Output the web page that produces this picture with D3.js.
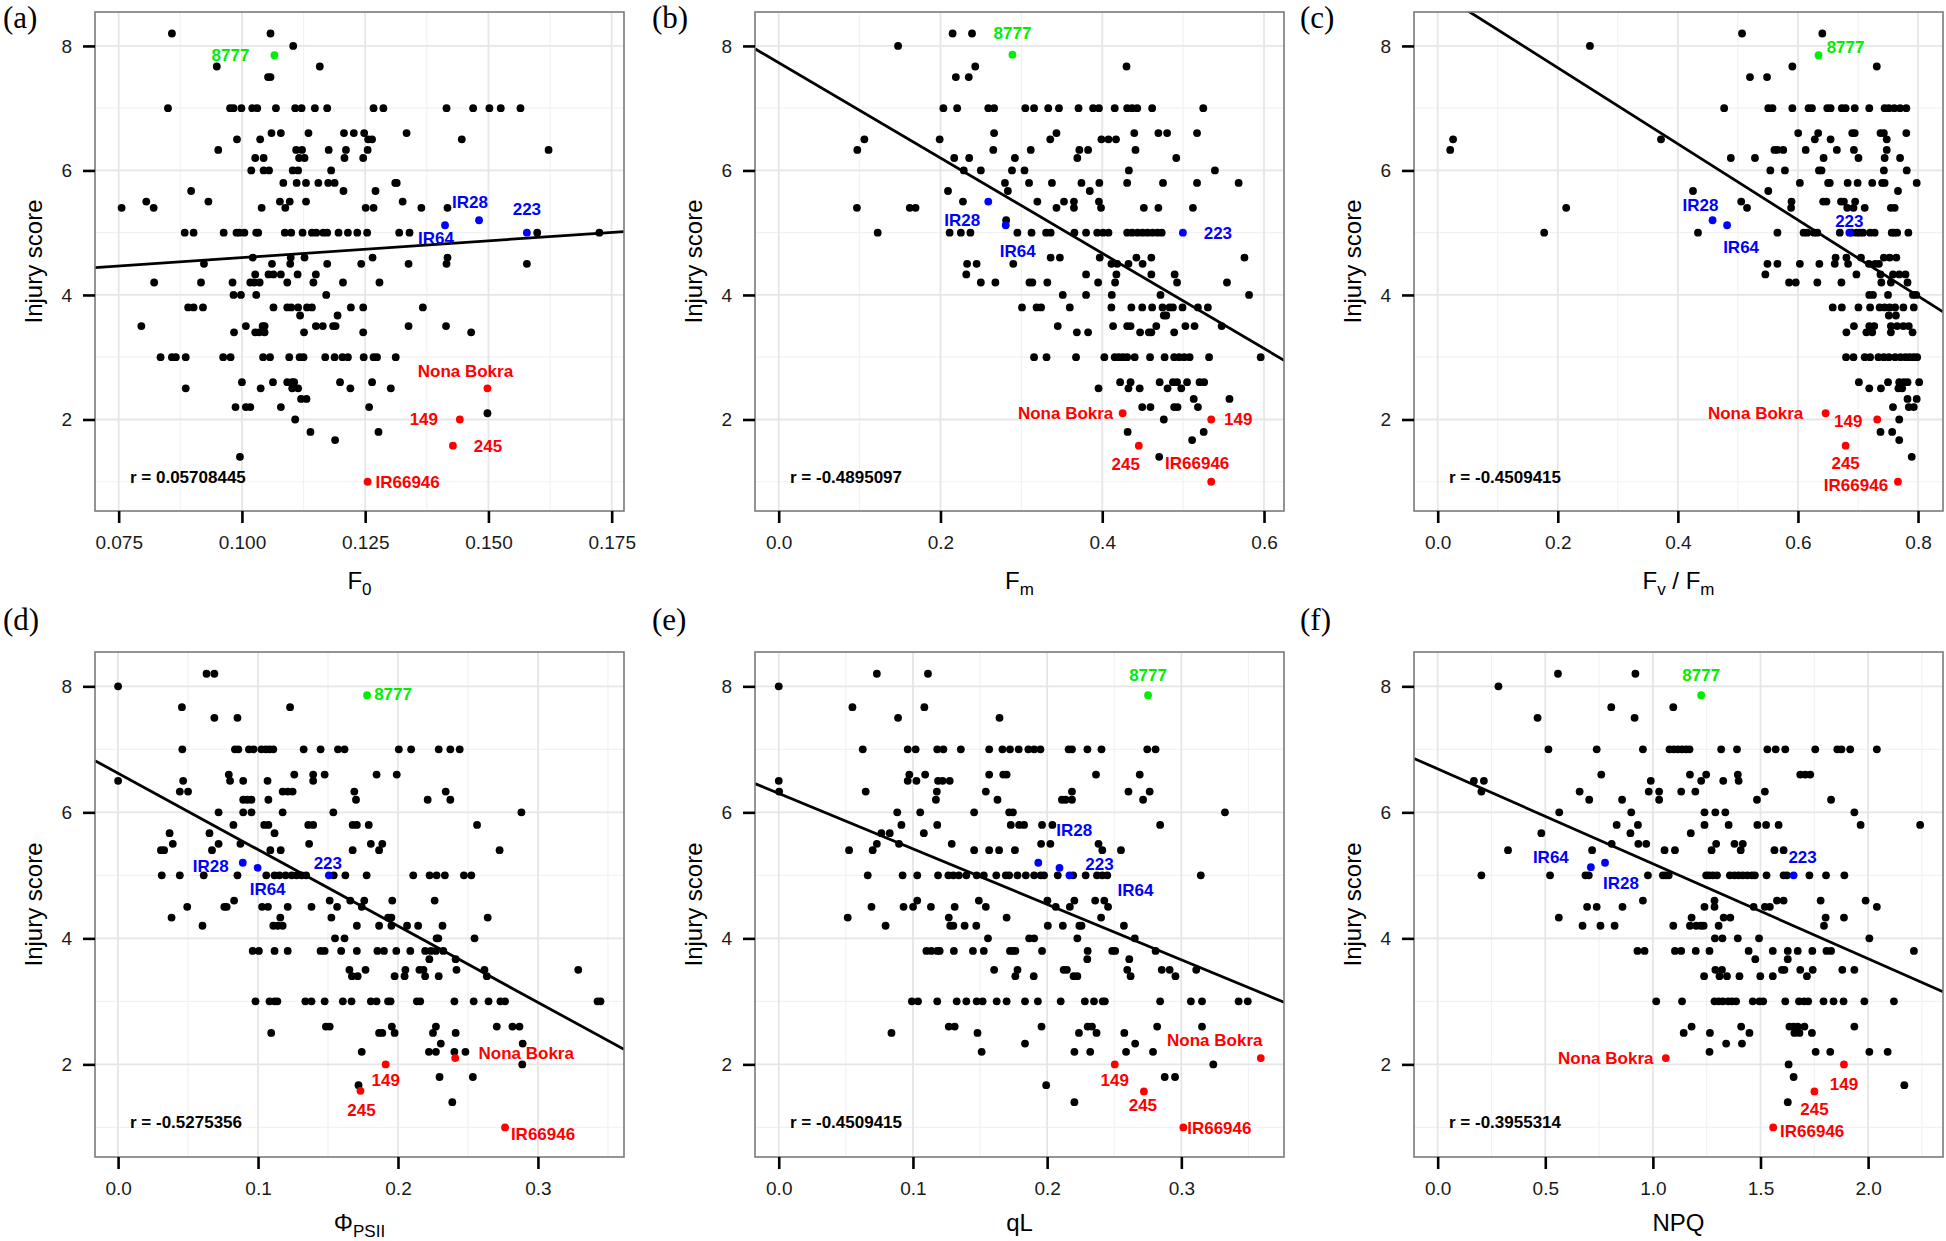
<!DOCTYPE html>
<html>
<head>
<meta charset="utf-8">
<script src="https://cdn.jsdelivr.net/npm/d3@7"></script>
<style>
  body { margin: 0; background: #fff; }
  svg { display: block; }
</style>
</head>
<body>
<svg id="chart" width="1946" height="1241"></svg>
<script>
// genotypes that get a label, in the order used by every special* array
const genotypes = ["8777", "IR28", "IR64", "223", "Nona Bokra", "149", "245", "IR66946"];
const genotypeColors = ["#00ee00", "#0000ff", "#0000ff", "#0000ff", "#ff0000", "#ff0000", "#ff0000", "#ff0000"];

const rLabels = ["r = 0.05708445", "r = -0.4895097", "r = -0.4509415", "r = -0.5275356", "r = -0.4509415", "r = -0.3955314"];

// fitted lines: injury = intercept + slope * x
const fitIntercepts = [4.06, 7.73, 8.87, 6.62, 6.30, 6.69];
const fitSlopes = [5.4, -7.65, -6.11, -12.12, -8.80, -1.506];

const yTicks = [2, 4, 6, 8];
const ticksF0 = [0.075, 0.1, 0.125, 0.15, 0.175];
const ticksFm = [0, 0.2, 0.4, 0.6];
const ticksFvFm = [0, 0.2, 0.4, 0.6, 0.8];
const ticksPhi = [0, 0.1, 0.2, 0.3];
const ticksQL = [0, 0.1, 0.2, 0.3];
const ticksNPQ = [0, 0.5, 1, 1.5, 2];

// each row: [injury score, [x values]]
const rowsF0 = [
  [8.2,[0.0858,0.1058]],[8.0,[0.1104]],[7.67,[0.0949,0.1158]],[7.5,[0.1053,0.1058]],
  [7.0,[0.085,0.0976,0.0983,0.0999,0.1021,0.1031,0.1069,0.1108,0.1121,0.1148,0.1173,0.1267,0.1287,0.1415,0.1469,0.1502,0.1525,0.1565]],
  [6.6,[0.106,0.1079,0.1135,0.1207,0.1227,0.1248,0.1334]],
  [6.5,[0.099,0.1037,0.1256,0.1264,0.1446]],
  [6.33,[0.0952,0.111,0.1122,0.1176,0.1211,0.1255,0.1622]],
  [6.2,[0.1027,0.1044,0.1116,0.1127,0.1208,0.1246]],
  [6.0,[0.1019,0.1044,0.1055,0.1103,0.1114,0.1181]],
  [5.8,[0.1084,0.1111,0.113,0.1155,0.1175,0.1188,0.1311,0.1314]],
  [5.67,[0.0897,0.1206,0.1271]],
  [5.5,[0.0806,0.0932,0.1077,0.1097,0.113,0.1326]],
  [5.4,[0.0756,0.0821,0.104,0.1088,0.1251,0.1267,0.1364,0.1417]],
  [5.0,[0.0884,0.0902,0.0963,0.0989,0.0995,0.1005,0.1029,0.1033,0.1087,0.11,0.1123,0.1142,0.1151,0.1165,0.1173,0.1196,0.1215,0.1234,0.1254,0.1319,0.134,0.1599,0.1725]],
  [4.6,[0.1022,0.1099,0.1127,0.1265,0.1417]],
  [4.5,[0.0923,0.1061,0.1098,0.1173,0.1242,0.1338,0.1415,0.1578]],
  [4.33,[0.1027,0.1054,0.1064,0.1079,0.1113,0.115]],
  [4.2,[0.0822,0.0917,0.0981,0.1017,0.1025,0.1036,0.1092,0.1145,0.1205,0.1279]],
  [4.0,[0.0983,0.0998,0.1029,0.1171]],
  [3.8,[0.0891,0.0902,0.0921,0.1064,0.1092,0.11,0.1114,0.1132,0.1142,0.1221,0.1246,0.1367]],
  [3.67,[0.1118,0.1194]],
  [3.5,[0.0796,0.1008,0.1042,0.1046,0.115,0.1164,0.1185,0.119,0.1338,0.1414]],
  [3.4,[0.0984,0.1027,0.1035,0.1046,0.1126,0.1246,0.1465]],
  [3.0,[0.0835,0.0858,0.0866,0.0886,0.0962,0.0977,0.1043,0.1057,0.1096,0.1117,0.1125,0.1169,0.1188,0.1204,0.1215,0.1247,0.1267,0.1274,0.1312]],
  [2.6,[0.1,0.1063,0.1092,0.1102,0.1106,0.1199,0.1264]],
  [2.5,[0.0886,0.1038,0.1102,0.1114,0.122,0.1302]],
  [2.33,[0.112,0.1131]],
  [2.2,[0.0987,0.1008,0.1017,0.1079,0.1258]],
  [2.1,[0.1498]],[2.0,[0.1108]],[1.8,[0.1139,0.1277]],[1.67,[0.1189]],[1.4,[0.0996]]
];
const specialF0 = [[0.1066,7.85],[0.1481,5.2],[0.1412,5.12],[0.1578,5.0],[0.1498,2.5],[0.1442,2.0],[0.1428,1.58],[0.1255,1.0]];

const rowsFm = [
  [8.2,[0.215,0.239]],[8.0,[0.1476]],[7.67,[0.243,0.43]],[7.5,[0.219,0.235]],
  [7.0,[0.2036,0.2206,0.2591,0.2663,0.3049,0.3157,0.3332,0.3465,0.3707,0.3887,0.3959,0.4154,0.4308,0.437,0.4432,0.4617,0.5249]],
  [6.6,[0.2663,0.3434,0.4396,0.4694,0.4802,0.5172]],
  [6.5,[0.1059,0.199,0.3357,0.399,0.4077,0.417]],
  [6.33,[0.0972,0.2653,0.3116,0.3717,0.3825,0.4411]],
  [6.2,[0.217,0.2355,0.292,0.3692,0.4915]],
  [6.0,[0.2288,0.2499,0.2884,0.3039,0.4329,0.5393]],
  [5.8,[0.2797,0.3095,0.3378,0.3743,0.3964,0.4308,0.4751,0.5172,0.5686]],
  [5.67,[0.2093,0.2833,0.3846]],
  [5.5,[0.2278,0.3198,0.3527,0.365,0.3959]],
  [5.4,[0.0967,0.162,0.1692,0.3434,0.365,0.3985,0.4514,0.4694,0.5121]],
  [5.2,[0.2812]],
  [5.0,[0.1224,0.2113,0.2252,0.237,0.2951,0.3126,0.3306,0.3362,0.3656,0.38,0.3938,0.401,0.4077,0.4308,0.437,0.4437,0.4499,0.456,0.4622,0.4684,0.4735]],
  [4.6,[0.3362,0.3476,0.3969,0.4422,0.4607,0.5758]],
  [4.5,[0.2329,0.2447,0.29,0.4113,0.4185,0.4324,0.4499]],
  [4.33,[0.2319,0.38,0.4175,0.4607,0.4895]],
  [4.2,[0.2499,0.2679,0.31,0.3136,0.3321,0.3949,0.4159,0.4925,0.5542]],
  [4.0,[0.3512,0.38,0.4118,0.472,0.5815]],
  [3.8,[0.3008,0.3188,0.3244,0.3599,0.4113,0.436,0.4494,0.4617,0.4745,0.4833,0.4874,0.4992,0.5183,0.5306]],
  [3.67,[0.4761,0.4792]],
  [3.5,[0.345,0.4134,0.4308,0.435,0.4668,0.5028,0.5141,0.5476]],
  [3.4,[0.3686,0.3825,0.4468,0.4576,0.4607,0.4889]],
  [3.0,[0.3157,0.3311,0.3676,0.4026,0.4154,0.4206,0.4257,0.4308,0.4401,0.4591,0.4771,0.4889,0.4951,0.5013,0.508,0.5321,0.5959]],
  [2.6,[0.4221,0.435,0.471,0.4874,0.4925,0.5049,0.5203,0.526]],
  [2.5,[0.3954,0.4324,0.4463,0.4807,0.4977]],
  [2.33,[0.5131,0.5573]],
  [2.2,[0.4494,0.4596,0.4889,0.4931,0.5183]],
  [2.0,[0.4761]],[1.8,[0.4314,0.5254]],[1.67,[0.5111]],[1.4,[0.4704]]
];
const specialFm = [[0.289,7.86],[0.2591,5.5],[0.2807,5.12],[0.4997,5.0],[0.4252,2.1],[0.5347,2.0],[0.4452,1.58],[0.5347,1.0]];

const rowsFvFm = [
  [8.2,[0.5069,0.6406]],[8.0,[0.2535]],[7.67,[0.5907,0.7313]],[7.5,[0.5201,0.5485]],
  [7.0,[0.4771,0.5506,0.5575,0.5907,0.6177,0.6233,0.6489,0.6544,0.6731,0.6794,0.6946,0.7188,0.7444,0.7514,0.7604,0.7701,0.7805]],
  [6.6,[0.6004,0.6337,0.6904,0.6946,0.7375,0.7431,0.7805]],
  [6.5,[0.0256,0.3719,0.6281,0.6544,0.7479]],
  [6.33,[0.0208,0.5609,0.5658,0.5755,0.6129,0.6648,0.6932,0.7479]],
  [6.2,[0.4882,0.5284,0.6427,0.7008,0.7444,0.7701]],
  [6.0,[0.554,0.5783,0.635,0.6392,0.7431,0.7812]],
  [5.8,[0.6032,0.6503,0.653,0.6828,0.6994,0.7237,0.7403,0.7444,0.7978]],
  [5.67,[0.4252,0.5506,0.7666]],
  [5.5,[0.5055,0.5893,0.642,0.6475,0.6717,0.6766,0.6953]],
  [5.4,[0.214,0.5152,0.5886,0.6821,0.6925,0.7112,0.7548,0.7611]],
  [5.0,[0.1773,0.4335,0.5658,0.6094,0.6157,0.6267,0.6323,0.6697,0.6891,0.6974,0.7029,0.7085,0.7202,0.7278,0.7562,0.7604,0.7652,0.7839]],
  [4.6,[0.6627,0.6807,0.705,0.7431,0.7528,0.7639]],
  [4.5,[0.5492,0.5658,0.6032,0.6357,0.6613,0.6835,0.7181,0.7285,0.7348]],
  [4.33,[0.5457,0.6974,0.7375,0.7583,0.7687,0.7791]],
  [4.2,[0.5852,0.5963,0.6323,0.6724,0.7389,0.7548,0.7825]],
  [4.0,[0.7188,0.725,0.75,0.7916,0.7971]],
  [3.8,[0.6579,0.6731,0.7008,0.7202,0.7361,0.7444,0.7528,0.7618,0.7756,0.7929]],
  [3.67,[0.7514,0.7632]],
  [3.5,[0.6932,0.7188,0.7271,0.7548,0.7652,0.7756,0.7846]],
  [3.4,[0.6807,0.714,0.7237,0.7548,0.7909]],
  [3.0,[0.6801,0.6925,0.7112,0.7202,0.7341,0.7431,0.7514,0.7618,0.7708,0.7791,0.786,0.7929,0.7985]],
  [2.6,[0.7015,0.75,0.7687,0.7763,0.7825,0.8019]],
  [2.5,[0.7188,0.7382,0.7673,0.7736]],
  [2.33,[0.7825,0.7978]],
  [2.2,[0.7583,0.7846,0.7929]],
  [2.0,[0.7687]],[1.8,[0.7375,0.7569]],[1.67,[0.7687]],[1.4,[0.7895]]
];
const specialFvFm = [[0.6343,7.85],[0.4578,5.2],[0.482,5.12],[0.6856,5.0],[0.6461,2.1],[0.732,2.0],[0.6794,1.58],[0.7666,1.0]];

const rowsPhi = [
  [8.2,[0.0632,0.0688]],[8.0,[0.0]],[7.67,[0.0456,0.1229]],[7.5,[0.0688,0.0853]],
  [7.0,[0.0459,0.0835,0.0859,0.0935,0.0968,0.1024,0.1056,0.1082,0.1109,0.1326,0.1447,0.1571,0.1618,0.2006,0.2094,0.2291,0.2374,0.2441]],
  [6.6,[0.0791,0.1259,0.1394,0.1476,0.1847,0.1991]],
  [6.5,[0.0,0.0465,0.08,0.0894,0.1068,0.1394]],
  [6.33,[0.0441,0.05,0.1176,0.1212,0.1247,0.1688,0.2341]],
  [6.2,[0.0894,0.0924,0.0953,0.1074,0.17,0.2212,0.2374]],
  [6.0,[0.0718,0.0894,0.0953,0.1176,0.1538,0.2882]],
  [5.8,[0.0824,0.1044,0.1074,0.1359,0.1394,0.1676,0.1706,0.1791,0.2565]],
  [5.67,[0.0368,0.0653,0.1118]],
  [5.5,[0.0391,0.0718,0.0874,0.1365,0.1806,0.1888]],
  [5.4,[0.0306,0.0329,0.0671,0.1088,0.1162,0.1676,0.1865,0.2726]],
  [5.0,[0.0312,0.0441,0.0612,0.0853,0.1059,0.1118,0.1153,0.1197,0.1241,0.1276,0.1312,0.1344,0.1541,0.1624,0.1776,0.2109,0.2226,0.2276,0.2335,0.2471,0.2524]],
  [4.6,[0.0829,0.1512,0.1659,0.1759,0.1959,0.2262]],
  [4.5,[0.0494,0.0759,0.0776,0.1029,0.1071,0.1212,0.1382,0.1565,0.1741]],
  [4.33,[0.0382,0.1159,0.1524,0.1929,0.1953,0.2641]],
  [4.2,[0.0603,0.1109,0.1141,0.1176,0.1706,0.1865,0.1953,0.2065,0.2144,0.2318]],
  [4.0,[0.155,0.1618,0.2276,0.2288,0.2547]],
  [3.8,[0.0962,0.1006,0.1118,0.1212,0.1447,0.1476,0.1594,0.1706,0.1853,0.19,0.1988,0.2088,0.2194,0.2235,0.2271,0.2324]],
  [3.67,[0.2224,0.2412]],
  [3.5,[0.1653,0.1768,0.2053,0.2153,0.2182,0.2418,0.2618,0.3288]],
  [3.4,[0.1671,0.1712,0.1976,0.2047,0.2194,0.2291,0.2635]],
  [3.0,[0.0982,0.1082,0.1118,0.1138,0.1338,0.1382,0.1476,0.1606,0.1668,0.1806,0.1847,0.1929,0.1947,0.2135,0.2159,0.2403,0.2541,0.2647,0.2732,0.2765,0.3426,0.3447]],
  [2.6,[0.1485,0.1512,0.1956,0.2271,0.2706,0.2818,0.2868]],
  [2.5,[0.1094,0.1865,0.1888,0.1976,0.225,0.2412]],
  [2.33,[0.2306,0.2891]],
  [2.2,[0.1741,0.2221,0.2271,0.2403,0.2482]],
  [2.0,[0.2888]],[1.8,[0.2297,0.2535]],[1.67,[0.1718]],[1.4,[0.2388]]
];
const specialPhi = [[0.1779,7.86],[0.0891,5.2],[0.0997,5.12],[0.1506,5.0],[0.2409,2.1],[0.1912,2.0],[0.1732,1.58],[0.2765,1.0]];

const rowsQL = [
  [8.2,[0.0731,0.1112]],[8.0,[0.0]],[7.67,[0.0549,0.1085]],[7.5,[0.0889,0.1645]],
  [7.0,[0.0626,0.0961,0.102,0.1181,0.1227,0.1357,0.1568,0.1667,0.1723,0.1788,0.186,0.1903,0.195,0.216,0.2185,0.23,0.2405,0.2746,0.2808]],
  [6.6,[0.0973,0.1091,0.1568,0.1673,0.1698,0.2364,0.269]],
  [6.5,[0.0,0.0961,0.1026,0.1187,0.1221,0.1274]],
  [6.33,[0.0003,0.0648,0.1178,0.1543,0.2185,0.2606,0.2764]],
  [6.2,[0.1171,0.163,0.211,0.2138,0.2185,0.2715]],
  [6.0,[0.0883,0.1054,0.1456,0.1717,0.1745,0.3325]],
  [5.8,[0.0914,0.1181,0.1729,0.1791,0.1828,0.1962,0.2039,0.2842]],
  [5.67,[0.0765,0.0827,0.1081]],
  [5.5,[0.0731,0.0896,0.1289,0.1955,0.2024,0.2383]],
  [5.4,[0.0524,0.07,0.1456,0.1568,0.1642,0.176,0.2411,0.255]],
  [5.0,[0.0663,0.0923,0.1032,0.1187,0.1264,0.1301,0.1342,0.1398,0.1475,0.1528,0.1621,0.1692,0.1717,0.1779,0.1841,0.1903,0.1952,0.1977,0.2079,0.2194,0.2287,0.2371,0.2411,0.2448,0.3145]],
  [4.6,[0.1032,0.1491,0.2002,0.2203,0.2358,0.2426]],
  [4.5,[0.0691,0.093,0.1001,0.1134,0.1311,0.1543,0.2064,0.2169,0.2454]],
  [4.33,[0.0514,0.1267,0.1698,0.2402]],
  [4.2,[0.0796,0.1278,0.1301,0.1385,0.1472,0.2005,0.2117,0.224,0.2256,0.2572]],
  [4.0,[0.1559,0.1866,0.1903,0.2225,0.2653]],
  [3.8,[0.11,0.1137,0.1181,0.1199,0.1305,0.1447,0.1528,0.1723,0.1745,0.1763,0.1962,0.2302,0.2485,0.2507,0.2808]],
  [3.67,[0.2299,0.2612]],
  [3.5,[0.1605,0.1779,0.2123,0.2147,0.2597,0.2854,0.2913,0.3111]],
  [3.4,[0.1763,0.19,0.2197,0.2225,0.2622,0.2956]],
  [3.0,[0.0992,0.1038,0.1181,0.1326,0.1398,0.1475,0.1519,0.1624,0.1698,0.1835,0.1931,0.2101,0.2281,0.2349,0.2414,0.243,0.2842,0.3071,0.3154,0.3427,0.3495]],
  [2.6,[0.1267,0.1311,0.1958,0.2302,0.2334,0.282,0.3154]],
  [2.5,[0.084,0.1481,0.2237,0.2368,0.2575]],
  [2.33,[0.1835,0.2656]],
  [2.2,[0.1512,0.2203,0.2321,0.2588,0.2789]],
  [2.0,[0.3238]],[1.8,[0.2876,0.2953]],[1.67,[0.1993]],[1.4,[0.2203]]
];
const specialQL = [[0.2752,7.86],[0.1934,5.2],[0.2092,5.12],[0.2166,5.0],[0.3592,2.1],[0.2504,2.0],[0.2721,1.57],[0.3015,1.0]];

const rowsNPQ = [
  [8.2,[0.559,0.9188]],[8.0,[0.2824]],[7.67,[0.8066,1.0948]],[7.5,[0.4642,0.9149]],
  [7.0,[0.5145,0.7389,0.9536,1.0774,1.0967,1.116,1.1354,1.1547,1.1702,1.3172,1.3907,1.5319,1.5706,1.6151,1.7544,1.8569,1.8762,1.9168,2.0406]],
  [6.6,[0.7602,1.1721,1.2476,1.3946,1.6847,1.7079,1.7311]],
  [6.5,[0.1683,0.2147,0.9903,1.2244,1.3269,1.3985]],
  [6.33,[0.2031,0.6596,0.9807,1.029,1.1315,1.1973,1.5203]],
  [6.2,[0.7041,0.8569,1.029,1.4836,1.8279]],
  [6.0,[0.5648,0.8994,1.2398,1.2902,1.3366,1.9362]],
  [5.8,[0.8317,0.9304,1.2398,1.352,1.4855,1.5261,1.5841,1.9652,2.2418]],
  [5.67,[0.4816,0.8956,1.176]],
  [5.5,[0.8085,0.9323,0.969,1.294,1.3791,1.4178]],
  [5.4,[0.3269,0.7176,1.0542,1.1025,1.2727,1.4081,1.5648,1.6074]],
  [5.0,[0.2031,0.5222,0.6867,0.7021,0.9768,1.0464,1.06,1.0735,1.2476,1.2611,1.2785,1.2979,1.3578,1.3791,1.3985,1.4178,1.4391,1.4603,1.4739,1.528,1.6074,1.6228,1.7273,1.8046,1.8897]],
  [4.6,[0.9536,1.2863,1.5764,1.6074,1.7795,1.9884]],
  [4.5,[0.6944,0.7389,0.8588,1.2398,1.2863,1.4681,1.5203,1.5435,2.0406]],
  [4.33,[0.5629,1.1799,1.3288,1.3598,1.8027,1.8878]],
  [4.2,[0.6731,0.7563,0.8221,1.0948,1.1721,1.2012,1.2224,1.236,1.3056,1.795]],
  [4.0,[1.2882,1.323,1.3946,1.4932,2.0058]],
  [3.8,[0.9284,0.9613,1.1025,1.1315,1.1992,1.2631,1.4449,1.5571,1.6267,1.6731,1.7408,1.8066,1.8279,2.2128]],
  [3.67,[1.4758,1.6267]],
  [3.5,[1.2902,1.3211,1.5996,1.6112,1.6847,1.7427,1.8801,1.9362]],
  [3.4,[1.2379,1.3095,1.3443,1.4023,1.499,1.5571,1.7157]],
  [3.0,[1.0155,1.1354,1.2863,1.3056,1.325,1.3501,1.3675,1.3868,1.4642,1.4952,1.5126,1.6151,1.6789,1.7021,1.7215,1.793,1.8395,1.8859,1.9826,2.1199]],
  [2.6,[1.1799,1.4101,1.6344,1.6538,1.6731,1.7041,1.9362]],
  [2.5,[1.1431,1.265,1.4487,1.6576,1.6809,1.7389]],
  [2.33,[1.3404,1.4139]],
  [2.2,[1.2631,1.7563,1.824,2.0058,2.0909]],
  [2.0,[1.6306]],[1.8,[1.6538]],[1.67,[2.1683]],[1.4,[1.6267]]
];
const specialNPQ = [[1.2244,7.86],[0.7776,5.2],[0.7118,5.13],[1.6538,5.0],[1.06,2.1],[1.8878,2.0],[1.7505,1.57],[1.559,1.0]];

// label placement (pixel shift from the point), one list per panel
const labelShifts = [
  [[-44,0],[-9,-18],[-9,13],[0,-24],[-22,-17],[-36,0],[35,0],[40,0]],
  [[0,-22],[-26,18],[12,26],[35,0],[-57,0],[27,0],[-13,18],[-14,-19]],
  [[27,-8],[-12,-15],[14,22],[0,-12],[-70,0],[-29,2],[0,17],[-42,3]],
  [[26,-1],[-32,3],[10,21],[-1,-12],[71,-5],[0,16],[1,19],[38,7]],
  [[0,-20],[36,-33],[76,22],[30,-11],[-46,-18],[0,16],[-1,14],[36,1]],
  [[0,-20],[16,20],[-40,-10],[9,-18],[-60,0],[0,20],[0,18],[39,4]]
];

// layout
const colLeft = [95, 755, 1414];
const letterX = [3, 652, 1300];
const plotW = 529;
const rowTop = [12, 652];
const rowH = [499, 505];
const letterBase = [28, 630];
const titleGap = [78, 74];
const yDomain = [0.53, 8.545];
const font = "'Liberation Sans', Arial, sans-serif";

const panels = [
  { letter: "(a)", rows: rowsF0, special: specialF0, ticks: ticksF0, fmt: d3.format(".3f"), domain: [0.0702, 0.1775], title: [["F", 0], ["0", 1]] },
  { letter: "(b)", rows: rowsFm, special: specialFm, ticks: ticksFm, fmt: d3.format(".1f"), domain: [-0.0293, 0.6247], title: [["F", 0], ["m", 1]] },
  { letter: "(c)", rows: rowsFvFm, special: specialFvFm, ticks: ticksFvFm, fmt: d3.format(".1f"), domain: [-0.0395, 0.8416], title: [["F", 0], ["v", 1], [" / F", 0], ["m", 1]] },
  { letter: "(d)", rows: rowsPhi, special: specialPhi, ticks: ticksPhi, fmt: d3.format(".1f"), domain: [-0.0165, 0.3615], title: [["\u03A6", 0], ["PSII", 1]] },
  { letter: "(e)", rows: rowsQL, special: specialQL, ticks: ticksQL, fmt: d3.format(".1f"), domain: [-0.0177, 0.3765], title: [["qL", 0]] },
  { letter: "(f)", rows: rowsNPQ, special: specialNPQ, ticks: ticksNPQ, fmt: d3.format(".1f"), domain: [-0.110, 2.348], title: [["NPQ", 0]] }
];

const svg = d3.select("#chart");
svg.append("rect").attr("width", 1946).attr("height", 1241).attr("fill", "#fff");

function minorOf(ticks, domain) {
  const step = ticks[1] - ticks[0];
  const out = [];
  for (let i = -1; i < ticks.length; i++) {
    const v = ticks[0] + step * (i + 0.5);
    if (v > domain[0] && v < domain[1]) out.push(v);
  }
  return out;
}

panels.forEach((p, i) => {
  const row = Math.floor(i / 3), col = i % 3;
  const left = colLeft[col], top = rowTop[row], h = rowH[row];
  const x = d3.scaleLinear().domain(p.domain).range([left, left + plotW]);
  const y = d3.scaleLinear().domain(yDomain).range([top + h, top]);
  const g = svg.append("g");

  const clipId = "clip" + i;
  svg.append("clipPath").attr("id", clipId)
    .append("rect").attr("x", left).attr("y", top).attr("width", plotW).attr("height", h);

  // grid lines
  const grid = g.append("g");
  minorOf(p.ticks, p.domain).forEach(v => {
    grid.append("line").attr("x1", x(v)).attr("x2", x(v)).attr("y1", top).attr("y2", top + h)
      .attr("stroke", "#f2f2f2").attr("stroke-width", 1.2);
  });
  [1, 3, 5, 7].forEach(v => {
    grid.append("line").attr("x1", left).attr("x2", left + plotW).attr("y1", y(v)).attr("y2", y(v))
      .attr("stroke", "#f2f2f2").attr("stroke-width", 1.2);
  });
  p.ticks.forEach(v => {
    grid.append("line").attr("x1", x(v)).attr("x2", x(v)).attr("y1", top).attr("y2", top + h)
      .attr("stroke", "#e6e6e6").attr("stroke-width", 1.8);
  });
  yTicks.forEach(v => {
    grid.append("line").attr("x1", left).attr("x2", left + plotW).attr("y1", y(v)).attr("y2", y(v))
      .attr("stroke", "#e6e6e6").attr("stroke-width", 1.8);
  });

  // black points
  const pts = [];
  p.rows.forEach(r => r[1].forEach(v => pts.push([v, r[0]])));
  g.append("g").selectAll("circle").data(pts).join("circle")
    .attr("cx", d => x(d[0])).attr("cy", d => y(d[1])).attr("r", 3.9).attr("fill", "#000");

  // fitted line
  const fx = p.domain;
  g.append("line").attr("clip-path", `url(#${clipId})`)
    .attr("x1", x(fx[0])).attr("y1", y(fitIntercepts[i] + fitSlopes[i] * fx[0]))
    .attr("x2", x(fx[1])).attr("y2", y(fitIntercepts[i] + fitSlopes[i] * fx[1]))
    .attr("stroke", "#000").attr("stroke-width", 2.8);

  // labelled genotypes
  g.append("g").selectAll("circle").data(p.special).join("circle")
    .attr("cx", d => x(d[0])).attr("cy", d => y(d[1])).attr("r", 3.9)
    .attr("fill", (d, k) => genotypeColors[k]);
  g.append("g").selectAll("text").data(p.special).join("text")
    .attr("x", (d, k) => x(d[0]) + labelShifts[i][k][0])
    .attr("y", (d, k) => y(d[1]) + labelShifts[i][k][1])
    .attr("dy", "0.35em").attr("text-anchor", "middle")
    .attr("font-family", font).attr("font-weight", "bold").attr("font-size", 17)
    .attr("fill", (d, k) => genotypeColors[k])
    .text((d, k) => genotypes[k]);

  // r value
  g.append("text").attr("x", left + 35).attr("y", y(1.08)).attr("dy", "0.35em")
    .attr("font-family", font).attr("font-weight", "bold").attr("font-size", 17)
    .text(rLabels[i]);

  // border
  g.append("rect").attr("x", left).attr("y", top).attr("width", plotW).attr("height", h)
    .attr("fill", "none").attr("stroke", "#7a7a7a").attr("stroke-width", 1.6);

  // axes
  const ax = g.append("g").attr("transform", `translate(0,${top + h})`)
    .call(d3.axisBottom(x).tickValues(p.ticks).tickFormat(p.fmt).tickSize(12).tickPadding(13));
  const ay = g.append("g").attr("transform", `translate(${left},0)`)
    .call(d3.axisLeft(y).tickValues(yTicks).tickFormat(d3.format("d")).tickSize(12).tickPadding(11));
  [ax, ay].forEach(a => {
    a.select(".domain").remove();
    a.selectAll(".tick line").attr("stroke", "#000").attr("stroke-width", 2.6);
    a.selectAll(".tick text").attr("font-family", font).attr("font-size", 19).attr("fill", "#1a1a1a");
  });

  // axis titles
  const t = g.append("text").attr("x", left + plotW / 2).attr("y", top + h + titleGap[row])
    .attr("text-anchor", "middle").attr("font-family", font).attr("font-size", 24).attr("fill", "#000");
  let lowered = false;
  p.title.forEach(part => {
    const sub = part[1] === 1;
    const s = t.append("tspan").text(part[0]);
    if (sub) { s.attr("font-size", 17).attr("dy", lowered ? 0 : 6); lowered = true; }
    else if (lowered) { s.attr("dy", -6); lowered = false; }
  });
  g.append("text").attr("transform", `translate(${left - 61},${top + h / 2}) rotate(-90)`)
    .attr("dy", "0.35em").attr("text-anchor", "middle")
    .attr("font-family", font).attr("font-size", 24).attr("fill", "#000")
    .text("Injury score");

  // panel letter
  g.append("text").attr("x", letterX[col]).attr("y", letterBase[row])
    .attr("font-family", "'Liberation Serif', 'Times New Roman', serif").attr("font-size", 31)
    .text(p.letter);
});
</script>
</body>
</html>
